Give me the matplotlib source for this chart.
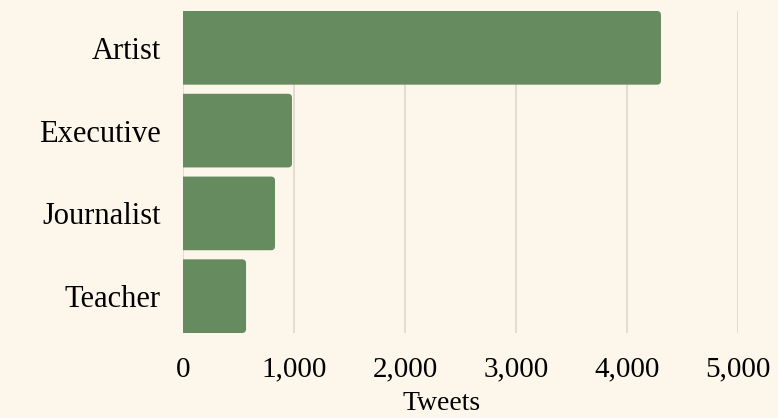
import numpy as np
import matplotlib.pyplot as plt
from matplotlib.patches import FancyBboxPatch
from matplotlib.ticker import FuncFormatter

# Tweets per occupation
occupations = ["Artist", "Executive", "Journalist", "Teacher"]
tweets = [4306, 982, 829, 568]

bg = "#fdf6eb"
bar_color = "#668b5f"
grid_color = "#dcd8cf"

plt.rcParams['font.family'] = ['Liberation Serif', 'DejaVu Serif']

fig = plt.figure(figsize=(7.78, 4.18), dpi=100, facecolor=bg)
ax = fig.add_axes([0.2352, 0.2033, 0.7134, 0.7704])
ax.set_facecolor(bg)

ax.set_xlim(0, 5000)
ax.set_ylim(len(occupations) - 0.555, -0.445)

# rounded right ends; left part hidden behind the axes edge
bar_h = 0.89
r = 36
aspect = (4 / 83) / r
for i, v in enumerate(tweets):
    box = FancyBboxPatch((-200, i - bar_h / 2), v + 200, bar_h,
                         boxstyle=f"round,pad=0,rounding_size={r}",
                         mutation_aspect=aspect, facecolor=bar_color,
                         edgecolor="none", zorder=2, clip_on=True)
    ax.add_patch(box)

ax.set_yticks(range(len(occupations)))
ax.set_yticklabels(occupations, fontsize=22)
ax.set_xticks(np.arange(0, 5001, 1000))
ax.xaxis.set_major_formatter(FuncFormatter(lambda x, p: f"{int(x):,}"))
ax.tick_params(axis='x', length=0, pad=17, labelsize=21)
ax.tick_params(axis='y', length=0, pad=16)
ax.grid(axis='x', color=grid_color, linewidth=1.2, zorder=0)
ax.set_axisbelow(True)
for s in ax.spines.values():
    s.set_visible(False)

fig.text(442 / 778, 1 - 404 / 418, "Tweets", fontsize=20, ha='center', va='center')

fig.savefig("out.png", dpi=100, facecolor=bg)
